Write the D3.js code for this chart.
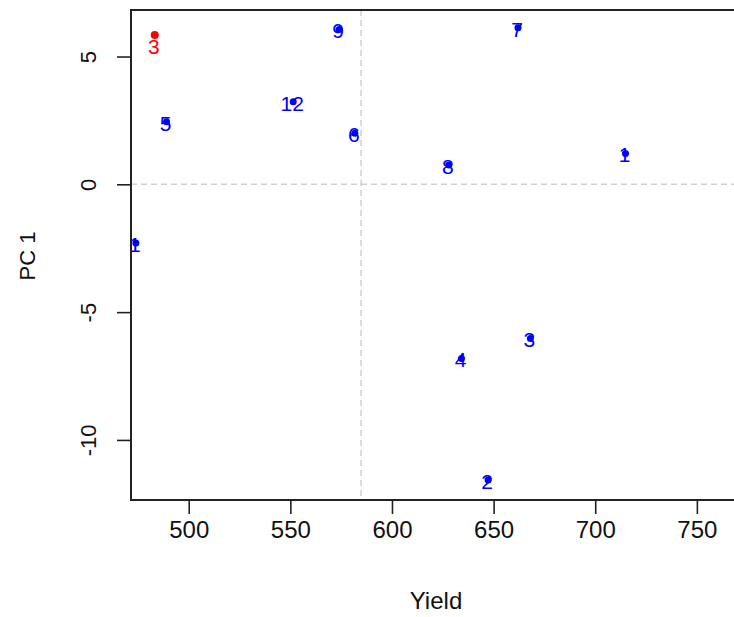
<!DOCTYPE html>
<html lang="en">
<head>
<meta charset="utf-8">
<title>Yield vs PC 1</title>
<script src="https://cdn.jsdelivr.net/npm/d3@7"></script>
<style>
  body { margin: 0; background: #fff; }
  svg { font-family: "Liberation Sans", Arial, sans-serif; }
</style>
</head>
<body>
<div id="chart"></div>
<script>
// values
var labels = ["3", "9", "5", "12", "6", "7", "1", "8", "1", "3", "4", "2"];
var groups = ["env", "gen", "gen", "gen", "gen", "gen", "gen", "gen", "gen", "gen", "gen", "gen"];
var yieldVals = [483.3, 574.0, 489.1, 551.4, 581.7, 662.0, 714.9, 628.0, 474.0, 668.1, 634.2, 647.3];
var pc1Vals = [5.84, 6.06, 2.45, 3.23, 2.0, 6.13, 1.21, 0.76, -2.30, -6.03, -6.81, -11.57];
var xTicks = [500, 550, 600, 650, 700, 750];
var yTicks = [-10, -5, 0, 5];
var meanYield = 584.8;

var data = labels.map(function(l, i) {
  return {label: l, group: groups[i], x: yieldVals[i], y: pc1Vals[i]};
});

var width = 734, height = 617;
var m = {left: 131, top: 10, bottom: 500, right: 768};

var x = d3.scaleLinear().domain([471.6, 785]).range([m.left, m.right]);
var y = d3.scaleLinear().domain([-12.35, 6.82]).range([m.bottom, m.top]);

var color = {env: "#ff0000", gen: "#0000ff"};

var svg = d3.select("#chart").append("svg")
  .attr("width", width)
  .attr("height", height);

svg.append("defs").append("clipPath").attr("id", "plotclip")
  .append("rect")
  .attr("x", m.left).attr("y", m.top)
  .attr("width", m.right - m.left).attr("height", m.bottom - m.top);

// dashed reference lines
svg.append("line")
  .attr("x1", m.left).attr("x2", m.right)
  .attr("y1", y(0)).attr("y2", y(0))
  .attr("stroke", "#cfcfcf").attr("stroke-width", 1.5)
  .attr("stroke-dasharray", "6,4");
svg.append("line")
  .attr("x1", x(meanYield)).attr("x2", x(meanYield))
  .attr("y1", m.top).attr("y2", m.bottom)
  .attr("stroke", "#cfcfcf").attr("stroke-width", 1.5)
  .attr("stroke-dasharray", "6,4");

var plot = svg.append("g").attr("clip-path", "url(#plotclip)");

// labels first, dots drawn on top like in R
plot.selectAll("text.lab")
  .data(data)
  .enter()
  .append("text")
  .attr("class", "lab")
  .attr("x", function(d) { return x(d.x) - 1; })
  .attr("y", function(d) { return y(d.y) + (d.group == "env" ? 11 : 1.5); })
  .attr("text-anchor", "middle")
  .attr("dominant-baseline", "central")
  .attr("font-size", 21)
  .attr("fill", function(d) { return color[d.group]; })
  .text(function(d) { return d.label; });

plot.selectAll("circle")
  .data(data)
  .enter()
  .append("circle")
  .attr("cx", function(d) { return x(d.x); })
  .attr("cy", function(d) { return y(d.y); })
  .attr("r", function(d) { return d.group == "env" ? 4 : 3.5; })
  .attr("fill", function(d) { return color[d.group]; });

// axes
var xAxis = d3.axisBottom(x).tickValues(xTicks).tickSize(14).tickPadding(7);
var gx = svg.append("g")
  .attr("transform", "translate(0," + m.bottom + ")")
  .call(xAxis);
gx.select(".domain").remove();
gx.selectAll("line").attr("stroke", "#222").attr("stroke-width", 1.6);
gx.selectAll("text").attr("font-size", 24).attr("fill", "#111")
  .attr("font-family", "Liberation Sans, Arial, sans-serif");

var yAxis = d3.axisLeft(y).tickValues(yTicks).tickSize(14).tickPadding(0)
  .tickFormat(function(d) { return String(d); });
var gy = svg.append("g")
  .attr("transform", "translate(" + m.left + ",0)")
  .call(yAxis);
gy.select(".domain").remove();
gy.selectAll("line").attr("stroke", "#222").attr("stroke-width", 1.6);
gy.selectAll("text")
  .attr("font-size", 22).attr("fill", "#111")
  .attr("font-family", "Liberation Sans, Arial, sans-serif")
  .attr("x", null).attr("dy", null)
  .attr("text-anchor", "middle")
  .attr("transform", "translate(-35,0) rotate(-90)");

// box
svg.append("rect")
  .attr("x", m.left).attr("y", m.top)
  .attr("width", m.right - m.left).attr("height", m.bottom - m.top)
  .attr("fill", "none").attr("stroke", "#222").attr("stroke-width", 2);

svg.append("text")
  .attr("x", 436).attr("y", 609)
  .attr("text-anchor", "middle")
  .attr("font-size", 24).attr("fill", "#111")
  .text("Yield");

svg.append("text")
  .attr("transform", "translate(35,256) rotate(-90)")
  .attr("text-anchor", "middle")
  .attr("font-size", 22).attr("fill", "#111")
  .text("PC 1");
</script>
</body>
</html>
